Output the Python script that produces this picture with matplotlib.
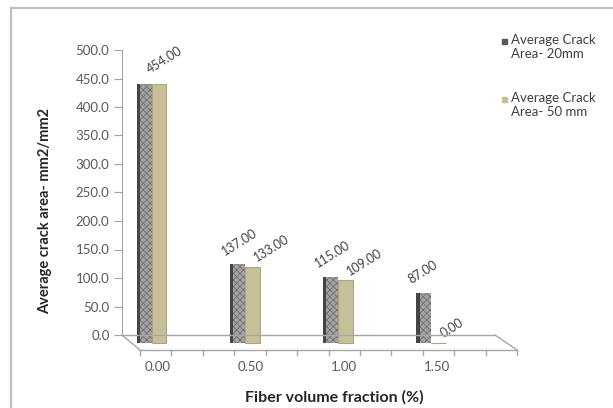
import numpy as np
import matplotlib
matplotlib.use("Agg")
import matplotlib.pyplot as plt
import matplotlib.transforms as mtransforms
from matplotlib.lines import Line2D
from matplotlib.patches import Rectangle

plt.rcParams['font.family'] = ['Lato', 'DejaVu Sans']
plt.rcParams['hatch.linewidth'] = 0.6

categories = ["0.00", "0.50", "1.00", "1.50"]
crack_20mm = [454, 137, 115, 87]
crack_50mm = [454, 133, 109, 0]
series_names = ["Average Crack\nArea- 20mm", "Average Crack\nArea- 50 mm"]
yticks = np.arange(0, 501, 50)

W, H = 613, 408
fig = plt.figure(figsize=(W / 100, H / 100), dpi=100)

def fx(px):
    return px / W

def fy(py):
    return 1 - py / H

# outer chart frame (only top/left visible in the crop)
fig.add_artist(Line2D([fx(11), fx(11)], [fy(8), 0], color='#bfbfbf', lw=1.6))
fig.add_artist(Line2D([fx(11), 1], [fy(8), fy(8)], color='#bfbfbf', lw=1.6))

ax = fig.add_axes([fx(122), fy(335), (495 - 122) / W, (335 - 50) / H])
ax.set_xlim(-0.22, 3.78)
ax.set_ylim(0, 500)

# pseudo-3D: bars sit halfway into the floor depth
def shifted(dx, dy):
    return ax.transData + mtransforms.ScaledTranslation(dx / 100, -dy / 100, fig.dpi_scale_trans)

bar_tr = shifted(9, 7.5)
x = np.arange(len(categories))
bw = 0.16

ax.bar(x - bw / 2, crack_20mm, bw, color='#a3a3a3', edgecolor='#707070', hatch='xxxxx',
       linewidth=0, transform=bar_tr, clip_on=False, zorder=3)
ax.bar(x - bw, crack_20mm, 0.035, align='edge', color='#454545', linewidth=0,
       transform=bar_tr, clip_on=False, zorder=4)
ax.bar(x + bw / 2, crack_50mm, bw, color='#c6bf98', edgecolor='#aba586', linewidth=0.8,
       transform=bar_tr, clip_on=False, zorder=3)

# data labels
for i in range(len(categories)):
    a, b = crack_20mm[i], crack_50mm[i]
    kw = dict(rotation=32, rotation_mode='anchor', ha='left', va='bottom',
              fontsize=9, color='#404040', textcoords='offset pixels', zorder=5)
    if a == b:
        ax.annotate(f"{a:.2f}", (i, a), xytext=(9 - 1, -7.5 + 8), **kw)
        continue
    ax.annotate(f"{a:.2f}", (i - bw, a), xytext=(9 - 4, -7.5 + 7), **kw)
    ax.annotate(f"{b:.2f}", (i + bw, b), xytext=(9 - 2, -7.5 + 3), **kw)

# axes styling
for s in ['top', 'right', 'bottom']:
    ax.spines[s].set_visible(False)
ax.spines['left'].set_color('#a6a6a6')
ax.set_yticks(yticks)
ax.set_yticklabels([f"{v:.1f}" for v in yticks])
ax.tick_params(axis='y', length=6, color='#a6a6a6', labelsize=9.5, labelcolor='#595959', pad=3)
ax.set_xticks([])

# floor of the 3D plot
floor = dict(color='#a6a6a6', lw=1.0)
fig.add_artist(Line2D([fx(122), fx(495)], [fy(335), fy(335)], **floor))
fig.add_artist(Line2D([fx(122), fx(140)], [fy(335), fy(350)], **floor))
fig.add_artist(Line2D([fx(495), fx(517)], [fy(335), fy(350)], **floor))
fig.add_artist(Line2D([fx(140), fx(517)], [fy(350), fy(350)], **floor))
for k in range(13):
    px = 140 + k * (517 - 140) / 12
    fig.add_artist(Line2D([fx(px), fx(px)], [fy(350), fy(355)], **floor))

lab_tr = shifted(15, 32)
for i, c in enumerate(categories):
    ax.text(i, 0, c, transform=lab_tr, ha='center', va='center', fontsize=9.5,
            color='#595959', clip_on=False)

fig.text(fx(334), fy(397), "Fiber volume fraction (%)", ha='center', va='center',
         fontsize=11.5, fontweight='bold', color='#262626')
fig.text(fx(45), fy(211), "Average crack area- mm2/mm2", ha='center', va='center',
         rotation=90, fontsize=10.5, fontweight='bold', color='#262626')

# legend
legend_colors = ['#595959', '#c6bf98']
for name, col, ytop in zip(series_names, legend_colors, [34, 92]):
    fig.add_artist(Rectangle((fx(502), fy(ytop + 10)), 5 / W, 5 / H, color=col,
                             transform=fig.transFigure))
    fig.text(fx(511), fy(ytop), name, ha='left', va='top', fontsize=9.5,
             color='#404040', linespacing=1.15)

fig.savefig("out.png", dpi=100)
